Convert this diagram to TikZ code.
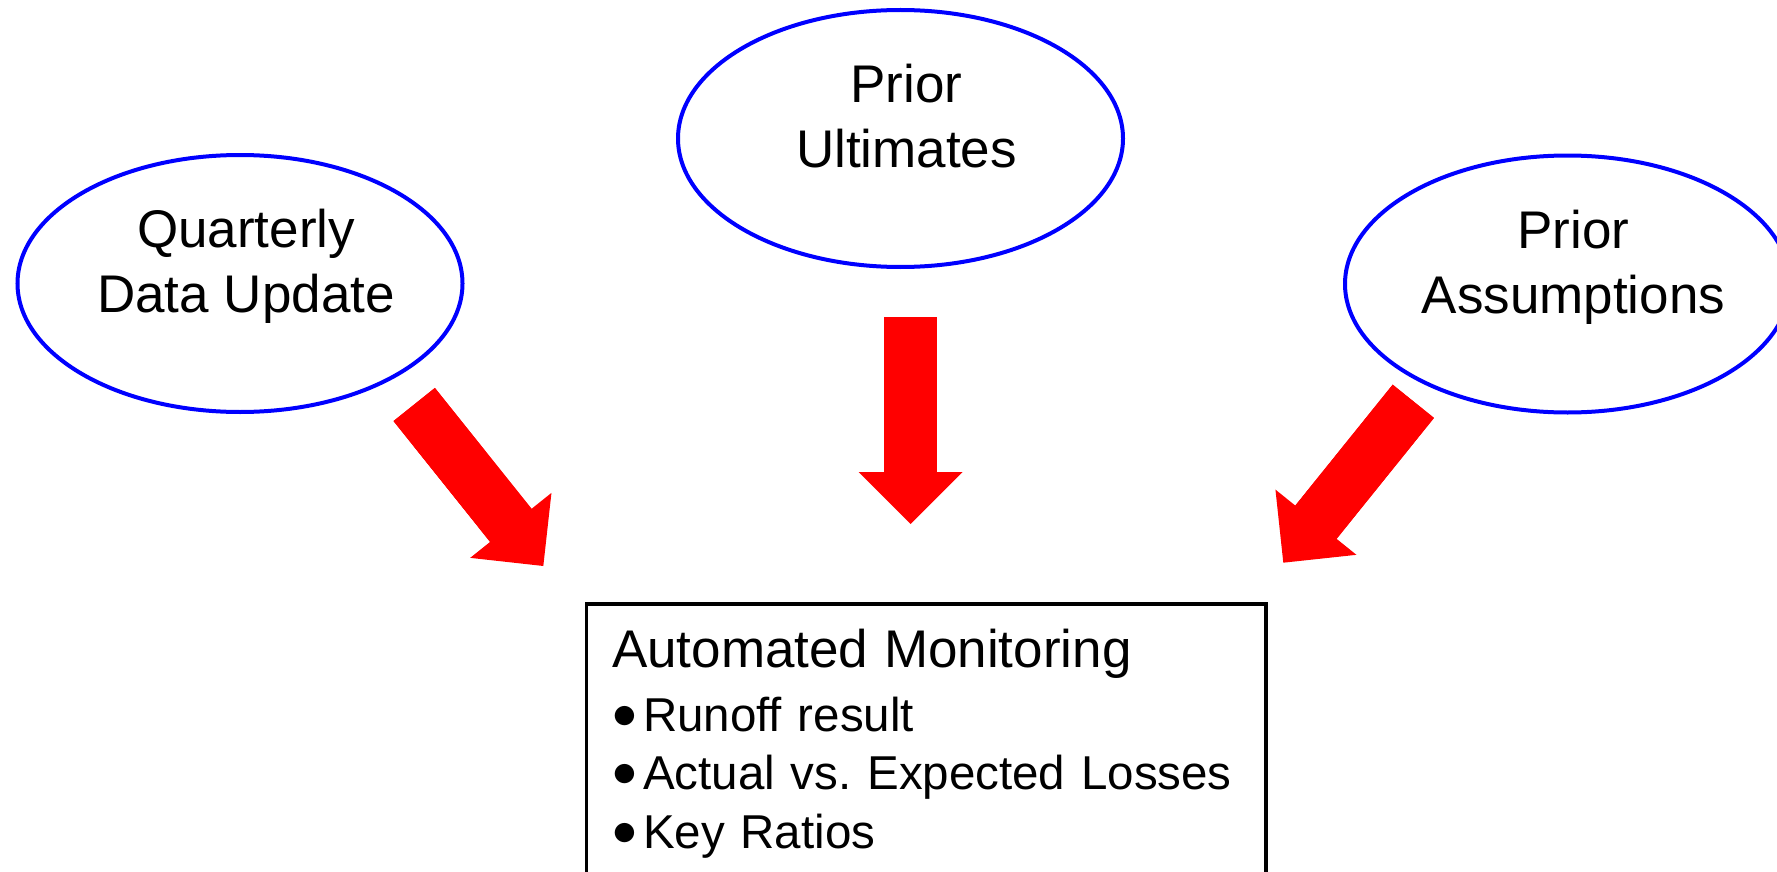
\documentclass[tikz,border=0pt]{standalone}
\usepackage{fontspec}
\setmainfont{Liberation Sans}
\usetikzlibrary{arrows.meta, shapes.geometric}

\newcommand{\puce}{\makebox[15.5pt][l]{\raisebox{1.5pt}{$\bullet$}}}

\tikzset{
  ovale/.style={ellipse, draw=blue, line width=2pt, minimum width=222.5pt,
    minimum height=128.5pt, inner sep=0pt},
  ovaltexte/.style={align=center, inner sep=0pt,
    font=\fontsize{26.5}{32.5}\selectfont},
  cadre/.style={draw=black, line width=1.65pt, anchor=north west, outer sep=0pt,
    inner sep=12.75pt, text width=314.25pt, align=left,
    font=\fontsize{23.75}{29.25}\selectfont\frenchspacing},
  grossefleche/.style={red, line width=26.5pt,
    -{Triangle[length=26pt, width=52pt, line width=0pt]},
    postaction={draw, red, line width=26.5pt, shorten >=16pt, arrows=-}}
}

\begin{document}
\begin{tikzpicture}[x=0.5pt, y=-0.5pt]
  % Cadre de l'image (1 unité = 1 pixel)
  \useasboundingbox (0,0) rectangle (1777,872);
  \clip (0,0) rectangle (1777,872);

  % Ellipses des données d'entrée
  \node[ovale] (trimestre) at (240,283.5) {};
  \node[ovale] (ultimes) at (900.5,138.5) {};
  \node[ovale] (hypotheses) at (1567.5,284) {};

  % Textes des ellipses (un peu au-dessus du centre)
  \node[ovaltexte] (trimestre-txt) at ([xshift=3pt, yshift=8.25pt]trimestre.center) {\strut Quarterly\\Data Update\strut};
  \node[ovaltexte] (ultimes-txt) at ([xshift=3pt, yshift=8.25pt]ultimes.center) {\strut Prior\\Ultimates\strut};
  \node[ovaltexte] (hypotheses-txt) at ([xshift=3pt, yshift=8.25pt]hypotheses.center) {\strut Prior\\Assumptions\strut};

  % Cadre du suivi automatisé (coupé en bas)
  \node[cadre] (suivi) at (586.5,604) {{\fontsize{26.5}{29.25}\selectfont Automated Monitoring}\\[2.4pt]\puce Runoff result\\\puce Actual vs.\ Expected Losses\\\puce Key Ratios};

  % Points de départ et d'arrivée des flèches
  \coordinate (trimestre-dep) at (414.2,404.5);
  \coordinate (trimestre-arr) at (543.3,566);
  \coordinate (ultimes-dep) at (910.7,317);
  \coordinate (ultimes-arr) at (910.7,524);
  \coordinate (hypotheses-dep) at (1413.3,401.3);
  \coordinate (hypotheses-arr) at (1283.3,562.7);

  % Flèches vers le cadre
  \draw[grossefleche] (trimestre-dep) -- (trimestre-arr);
  \draw[grossefleche] (ultimes-dep) -- (ultimes-arr);
  \draw[grossefleche] (hypotheses-dep) -- (hypotheses-arr);
\end{tikzpicture}
\end{document}
